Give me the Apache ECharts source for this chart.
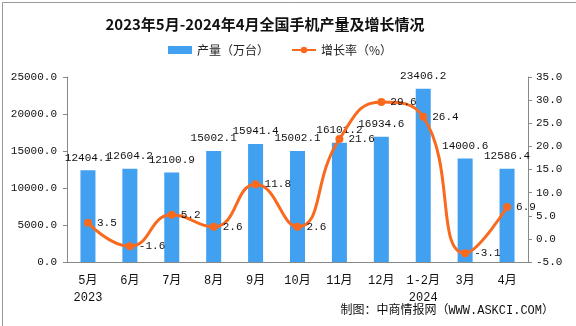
<!DOCTYPE html>
<html>
<head>
<meta charset="utf-8">
<script src="https://cdn.jsdelivr.net/npm/echarts@6/dist/echarts.min.js"></script>
<style>
  html, body { margin: 0; padding: 0; background: #fff; }
  #chart { width: 576px; height: 326px; }
</style>
</head>
<body>
<div id="chart"></div>
<script>
// Monthly mobile phone output (10k units) and year-on-year growth (%)
const categories = ['5月\n2023', '6月', '7月', '8月', '9月', '10月', '11月', '12月', '1-2月\n2024', '3月', '4月'];
const output = [12404.1, 12604.2, 12100.9, 15002.1, 15941.4, 15002.1, 16101.2, 16934.6, 23406.2, 14000.6, 12586.4];
const growth = [3.5, -1.6, 5.2, 2.6, 11.8, 2.6, 21.6, 29.6, 26.4, -3.1, 6.9];

const FONT = "'Liberation Mono', 'Noto Sans CJK SC', monospace";

const chart = echarts.init(document.getElementById('chart'));
chart.setOption({
  backgroundColor: '#ffffff',
  animation: false,
  title: {
    text: '2023年5月-2024年4月全国手机产量及增长情况',
    left: 260, top: 12, textAlign: 'center',
    textStyle: { fontFamily: "'Noto Sans CJK SC', serif", fontSize: 15, fontWeight: 'bold', color: '#111' }
  },
  legend: {
    top: 39, left: 163,
    itemGap: 22, itemWidth: 24, itemHeight: 8,
    textStyle: { fontFamily: "'Noto Sans CJK SC'", fontSize: 12, color: '#222' },
    data: [
      { name: '产量（万台）', icon: 'rect' },
      { name: '增长率（%）' }
    ]
  },
  grid: { left: 67, right: 48, top: 77, bottom: 64 },
  xAxis: {
    type: 'category',
    data: categories,
    boundaryGap: true,
    axisLine: { lineStyle: { color: '#888' } },
    axisTick: { alignWithLabel: false, length: 5, lineStyle: { color: '#888' } },
    axisLabel: { interval: 0, fontFamily: FONT, fontSize: 12, color: '#111', margin: 10, lineHeight: 17 }
  },
  yAxis: [
    {
      type: 'value', min: 0, max: 25000, interval: 5000,
      axisLine: { show: true, lineStyle: { color: '#888' } },
      axisTick: { show: true, length: 4, lineStyle: { color: '#888' } },
      splitLine: { show: false },
      axisLabel: { fontFamily: FONT, fontSize: 11, color: '#111', margin: 10,
        formatter: v => v.toFixed(1) }
    },
    {
      type: 'value', min: -5, max: 35, interval: 5,
      axisLine: { show: true, lineStyle: { color: '#888' } },
      axisTick: { show: true, length: 4, lineStyle: { color: '#888' } },
      splitLine: { show: false },
      axisLabel: { fontFamily: FONT, fontSize: 11, color: '#111', margin: 8,
        formatter: v => v.toFixed(1) }
    }
  ],
  series: [
    {
      name: '产量（万台）',
      type: 'bar',
      data: output,
      barWidth: 15,
      itemStyle: { color: '#41a0f0' },
      label: { show: true, position: 'top', distance: 7, fontFamily: FONT, fontSize: 11, color: '#111',
        formatter: p => p.value.toFixed(1) }
    },
    {
      name: '增长率（%）',
      type: 'line',
      yAxisIndex: 1,
      data: growth,
      smooth: 0.5,
      symbol: 'circle',
      symbolSize: 8,
      lineStyle: { color: '#fa6a1e', width: 3 },
      itemStyle: { color: '#fa6a1e' },
      label: { show: true, position: 'right', distance: 5, fontFamily: FONT, fontSize: 11, color: '#111',
        formatter: p => p.value.toFixed(1) }
    }
  ],
  graphic: [
    {
      type: 'rect', left: 0, top: 0, silent: true,
      shape: { x: 0.5, y: 0.5, width: 575, height: 325 },
      style: { fill: 'none', stroke: '#999', lineWidth: 1 }
    },
    {
      type: 'text', right: 22, top: 305,
      style: { text: '制图：中商情报网（WWW.ASKCI.COM）', fontFamily: FONT, fontSize: 12, fill: '#111' }
    }
  ]
});
</script>
</body>
</html>
